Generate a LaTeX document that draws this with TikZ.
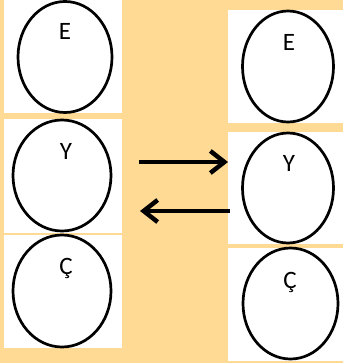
\documentclass[tikz,border=0pt]{standalone}
\usepackage{fontspec}
\setmainfont{Carlito}
\usetikzlibrary{arrows.meta,shapes.geometric}
\definecolor{bgor}{HTML}{FFDA95}
\tikzset{
  panel/.style={fill=white,draw=none},
  oval/.style={ellipse,draw=black,line width=2.7pt,fill=white,inner sep=0pt},
  letter/.style={font=\fontsize{25}{28}\selectfont,inner sep=0pt},
  bigarrow/.style={line width=4.5pt,-{Straight Barb[length=14pt,width=22pt,line width=4.5pt]}}
}
\begin{document}
\begin{tikzpicture}[x=1pt,y=-1pt]
\fill[bgor] (0,0) rectangle (343,363);
\useasboundingbox (0,0) rectangle (343,363);
% left panels
\fill[panel] (4,0) rectangle (122,113);
\fill[panel] (4,119) rectangle (122,233);
\fill[panel] (4,235) rectangle (122,348);
% right panels
\fill[panel] (228,10) rectangle (343,123);
\fill[panel] (228,132) rectangle (343,244);
\fill[panel] (228,248) rectangle (343,361);
% left ovals
\node[oval,minimum width=94pt,minimum height=111pt] (lE) at (65,57) {};
\node[oval,minimum width=98pt,minimum height=111pt] (lY) at (62,175.5) {};
\node[oval,minimum width=98pt,minimum height=112pt] (lC) at (62,291) {};
\node[letter] (tlE) at (65,31) {E};
\node[letter] (tlY) at (66,151) {Y};
\node[letter] (tlC) at (66,268) {Ç};
% right ovals
\node[oval,minimum width=91pt,minimum height=111pt] (rE) at (288,66.5) {};
\node[oval,minimum width=91pt,minimum height=110pt] (rY) at (288,188) {};
\node[oval,minimum width=95pt,minimum height=111pt] (rC) at (290.5,303.5) {};
\node[letter] (trE) at (289,42) {E};
\node[letter] (trY) at (289,163) {Y};
\node[letter] (trC) at (290,282) {Ç};
% arrows
\coordinate (a1s) at (139,162);
\coordinate (a1e) at (228,162);
\coordinate (a2s) at (230,211);
\coordinate (a2e) at (140,211);
\draw[bigarrow] (a1s) -- (a1e);
\draw[bigarrow] (a2s) -- (a2e);
\end{tikzpicture}
\end{document}
